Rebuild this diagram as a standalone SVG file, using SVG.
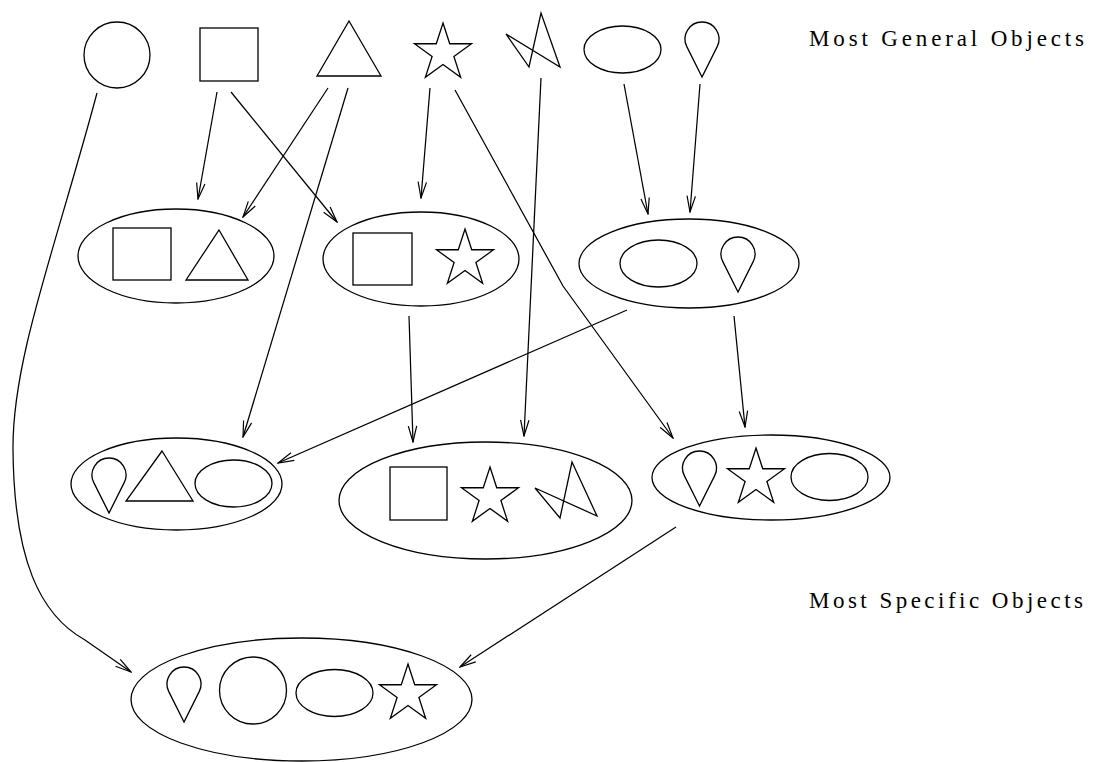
<svg xmlns="http://www.w3.org/2000/svg" width="1094" height="762" viewBox="0 0 1094 762">
  <style>
    .s { fill: none; stroke: #000; stroke-width: 1.3; stroke-linejoin: miter; }
    .edge { fill: none; stroke: #000; stroke-width: 1.25; marker-end: url(#arrow); }
    .label { font-family: "Liberation Serif", "DejaVu Serif", serif; font-size: 23px; fill: #000; }
  </style>
  <defs>
    <marker id="arrow" viewBox="-17 -6 18 12" refX="0" refY="0" markerWidth="18" markerHeight="12" markerUnits="userSpaceOnUse" orient="auto">
      <path d="M-16,-4.2 L0,0 L-16,4.2" fill="none" stroke="#000" stroke-width="1.2"/>
    </marker>
    <!-- five-pointed star, outer radius 30 -->
    <polygon id="star" class="s" points="0,-30 6.74,-9.27 28.53,-9.27 10.9,3.54 17.63,24.27 0,11.46 -17.63,24.27 -10.9,3.54 -28.53,-9.27 -6.74,-9.27"/>
    <!-- teardrop: circle r=17 at origin, point 38 below -->
    <path id="drop" class="s" d="M0,38 L-15.2,7.6 A17,17 0 1 1 15.2,7.6 Z"/>
    <ellipse id="oval" class="s" cx="0" cy="0" rx="38.5" ry="23.5"/>
  </defs>

  <!-- most general objects -->
  <g id="circle"><circle class="s" cx="117" cy="55" r="33"/></g>
  <g id="square"><rect class="s" x="200" y="28" width="58" height="53"/></g>
  <g id="triangle"><polygon class="s" points="349,21 381,76 317,76"/></g>
  <g id="starNode"><use href="#star" x="443" y="53"/></g>
  <g id="zigzag"><polygon class="s" points="506,34 529,67 541,13 560,67"/></g>
  <g id="ellipse"><use href="#oval" x="622.5" y="49.5"/></g>
  <g id="teardrop"><use href="#drop" x="702" y="39"/></g>

  <!-- pairs -->
  <g id="squareTriangle">
    <ellipse class="s" cx="176" cy="256" rx="98" ry="47"/>
    <rect class="s" x="113" y="228" width="58" height="52"/>
    <polygon class="s" points="219,230 248,280 186,280"/>
  </g>
  <g id="squareStar">
    <ellipse class="s" cx="421" cy="259" rx="98" ry="47"/>
    <rect class="s" x="353" y="233" width="59" height="52"/>
    <use href="#star" x="465" y="259"/>
  </g>
  <g id="ellipseTeardrop">
    <ellipse class="s" cx="689" cy="263.5" rx="110" ry="44.5"/>
    <use href="#oval" x="658.5" y="263.5"/>
    <use href="#drop" x="738" y="254"/>
  </g>

  <!-- triples -->
  <g id="teardropTriangleEllipse">
    <ellipse class="s" cx="176.5" cy="484" rx="105.5" ry="46"/>
    <use href="#drop" x="109" y="475"/>
    <polygon class="s" points="162,451 193,501 126,501"/>
    <use href="#oval" x="233.5" y="483.5"/>
  </g>
  <g id="squareStarZigzag">
    <ellipse class="s" cx="485.5" cy="500.5" rx="146.5" ry="58.5"/>
    <rect class="s" x="390" y="467" width="57" height="53"/>
    <use href="#star" x="490" y="497"/>
    <polygon class="s" points="535,488 560,518 572,462 597,516"/>
  </g>
  <g id="teardropStarEllipse">
    <ellipse class="s" cx="771" cy="477.5" rx="119" ry="42.5"/>
    <use href="#drop" x="699.5" y="468"/>
    <use href="#star" x="756" y="478"/>
    <use href="#oval" x="829.5" y="477"/>
  </g>

  <!-- most specific object -->
  <g id="teardropCircleEllipseStar">
    <ellipse class="s" cx="301.5" cy="699.5" rx="170.5" ry="61.5"/>
    <use href="#drop" x="184" y="684"/>
    <circle class="s" cx="253" cy="690.5" r="33.5"/>
    <use href="#oval" x="334.5" y="693"/>
    <use href="#star" x="408" y="694"/>
  </g>

  <g id="connectors">
    <path class="edge" d="M97,93 C55,250 12,360 13,450 C14,560 40,615 85,640 L131,672"/>
    <path class="edge" d="M217,92 L198,199"/>
    <path class="edge" d="M231,92 L337,222"/>
    <path class="edge" d="M328,88 L243,217"/>
    <path class="edge" d="M348,88 L243,437"/>
    <path class="edge" d="M430,88 L421,198"/>
    <path class="edge" d="M455,90 L563,286 L673,438"/>
    <path class="edge" d="M541,78 L524,436"/>
    <path class="edge" d="M624,84 L648,214"/>
    <path class="edge" d="M700,84 L690,212"/>
    <path class="edge" d="M409,316 L413,442"/>
    <path class="edge" d="M627,310 L278,463"/>
    <path class="edge" d="M734,316 L745,427"/>
    <path class="edge" d="M676,527 L460,667"/>
  </g>

  <g id="labels">
    <text class="label" x="809" y="46" textLength="275" lengthAdjust="spacing">Most General Objects</text>
    <text class="label" x="809" y="608" textLength="274" lengthAdjust="spacing">Most Specific Objects</text>
  </g>
</svg>
